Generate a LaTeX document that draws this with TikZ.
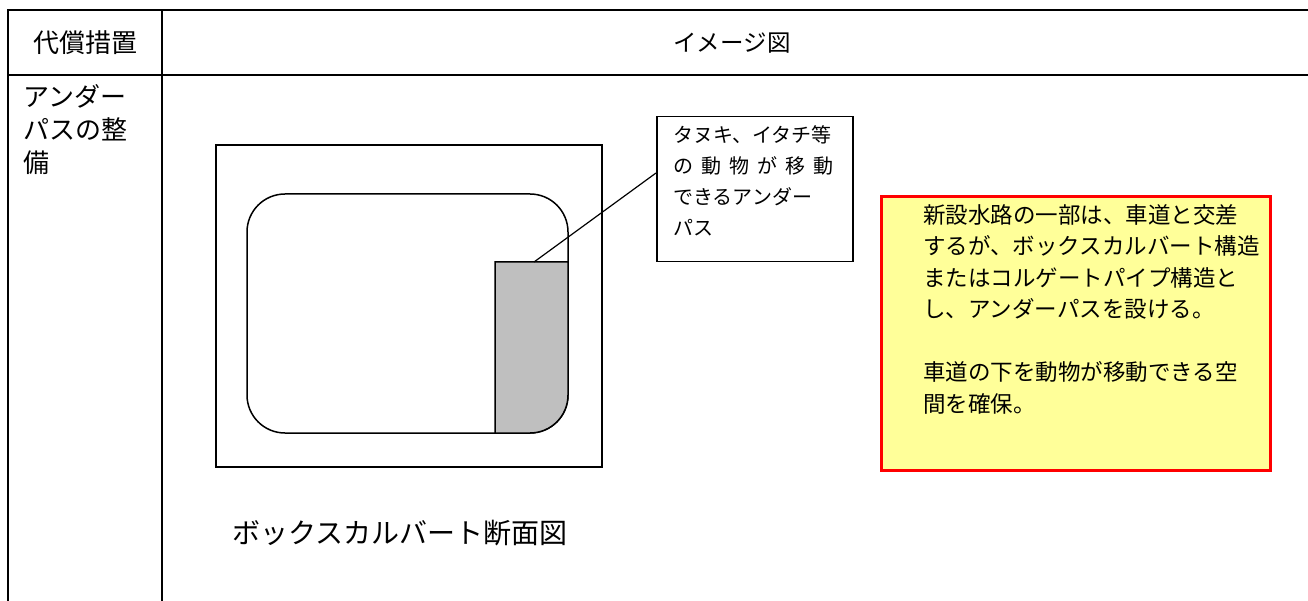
\documentclass[tikz,border=0pt]{standalone}
\usepackage{fontspec}
\setmainfont{Noto Sans CJK JP}
\definecolor{memofill}{HTML}{FFFF99}

\begin{document}
\begin{tikzpicture}[x=1pt, y=-1pt,
  every node/.style = {inner sep=0pt},
  rule/.style = {line width=2pt},
  wall/.style = {line width=1.5pt},
  label/.style = {anchor=north west, align=left}]
  \useasboundingbox (0,0) rectangle (1308,601);
  \draw[rule] (1308,10) -- (8,10) -- (8,601);
  \draw[rule] (8,75) -- (1308,75);
  \draw[rule] (162,10) -- (162,601);
  \node[font=\fontsize{26}{33}\selectfont] (head1) at (85,43) {代償措置};
  \node[font=\fontsize{23.5}{33}\selectfont] (head2) at (732,43) {イメージ図};
  \node[label, font=\fontsize{26}{33}\selectfont] (measure) at (23,84)
    {アンダー\\パスの整\\備};
  \draw[wall] (216,145) rectangle (602,467);
  \draw[wall, rounded corners=38pt] (247,194) rectangle (568,433);
  \draw[wall, fill=black!25] (495,262) -- (568,262) -- (568,395)
    arc[start angle=0, end angle=90, radius=38] -- (495,433) -- cycle;
  \node[draw, wall, minimum width=196pt, minimum height=145pt,
    anchor=north west] (note) at (656,116) {};
  \node[label, font=\fontsize{20}{31}\selectfont] (notetext) at (673,125)
    {タヌキ、イタチ等\\\makebox[160pt][s]{の 動 物 が 移 動}\\できるアンダー\\パス};
  \coordinate (pass) at (534,262);
  \coordinate (lead) at (656,173);
  \draw[line width=1.2pt] (pass) -- (lead);
  \node[draw=red, line width=3pt, fill=memofill, minimum width=389pt,
    minimum height=274pt, anchor=north west] (memo) at (880,195) {};
  \node[label, font=\fontsize{22.5}{31.5}\selectfont] (memotext) at (923,204)
    {新設水路の一部は、車道と交差\\するが、ボックスカルバート構造\\
     またはコルゲートパイプ構造と\\し、アンダーパスを設ける。\\ \\
     車道の下を動物が移動できる空\\間を確保。};
  \node[font=\fontsize{28}{28}\selectfont] (caption) at (400,533)
    {ボックスカルバート断面図};
\end{tikzpicture}
\end{document}
